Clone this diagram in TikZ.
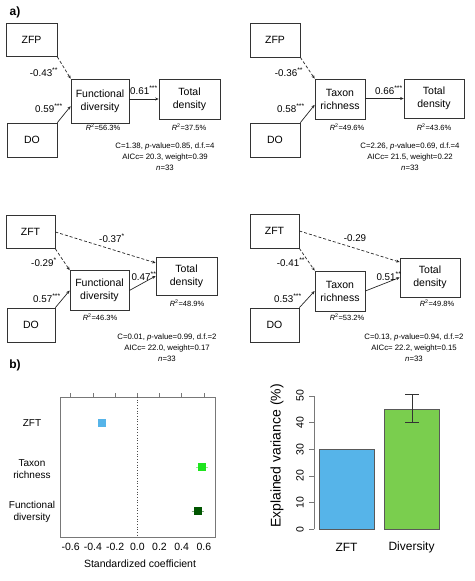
\documentclass[tikz,border=0pt]{standalone}
\usepackage{fontspec}
\setmainfont{Liberation Sans}
\usepackage{xcolor}
\definecolor{zftblue}{RGB}{86,180,233}
\definecolor{trgreen}{RGB}{30,228,30}
\definecolor{fdgreen}{RGB}{0,85,0}
\definecolor{bargreen}{RGB}{122,206,78}
\definecolor{axisgray}{RGB}{120,120,120}
\usetikzlibrary{arrows.meta}
\tikzset{
  pathbox/.style={draw=black!80, line width=0.7pt, inner sep=0pt, align=center,
    font=\fontsize{10.5}{13}\selectfont},
  coef/.style={font=\fontsize{9.8}{11}\selectfont, inner sep=0pt},
  rsq/.style={font=\fontsize{7.5}{9}\selectfont, inner sep=0pt},
  stats/.style={font=\fontsize{7.8}{10.8}\selectfont, align=center, inner sep=0pt},
  arr/.style={-{Stealth[length=3.5pt, width=3pt]}, line width=0.7pt, black!85},
  darr/.style={arr, dash pattern=on 3pt off 2pt},
  panel/.style={font=\fontsize{12}{14}\selectfont\bfseries, inner sep=0pt},
  ticklab/.style={font=\fontsize{10.5}{12}\selectfont, inner sep=0pt},
  rowlab/.style={font=\fontsize{10}{12.5}\selectfont, align=center, inner sep=0pt},
  barlab/.style={font=\fontsize{12}{14}\selectfont, inner sep=0pt}
}
\newcommand{\rsqtext}[1]{\textit{R}\textsuperscript{2}=#1\%}

\begin{document}
\begin{tikzpicture}[x=1pt, y=-1pt,
  declare function={cx(\v)=137.3+111*\v; vy(\v)=529.3-2.667*\v;}]
  \useasboundingbox (0,0) rectangle (474,581);

  % --- Panel a ---
  \node[panel] (lba) at (15,12) {a)};

  % top left: ZFP, DO -> functional diversity -> total density
  \node[pathbox, minimum width=51, minimum height=33] (zfp1) at (31.5,40) {ZFP};
  \node[pathbox, minimum width=50, minimum height=34] (do1) at (32,140) {DO};
  \node[pathbox, minimum width=58, minimum height=44] (fd1) at (100,101) {Functional\\diversity};
  \node[pathbox, minimum width=61, minimum height=40] (td1) at (189.5,99) {Total\\density};
  \draw[darr] (zfp1.south east) -- (fd1.north west);
  \draw[arr] (do1.north east) -- (fd1.190);
  \draw[arr] (fd1.east |- td1.west) -- (td1.west);
  \node[coef] (c1a) at (44,72) {-0.43\textsuperscript{**}};
  \node[coef] (c1b) at (49,108) {0.59\textsuperscript{***}};
  \node[coef] (c1c) at (144,90) {0.61\textsuperscript{***}};
  \node[rsq] (r1a) at (103,127) {\rsqtext{56.3}};
  \node[rsq] (r1b) at (189,127) {\rsqtext{37.5}};
  \node[stats] (s1) at (165,157) {C=1.38, \textit{p}-value=0.85, d.f.=4\\AICc= 20.3, weight=0.39\\\textit{n}=33};

  % top right: ZFP, DO -> taxon richness -> total density
  \node[pathbox, minimum width=50, minimum height=34] (zfp2) at (275,40) {ZFP};
  \node[pathbox, minimum width=50, minimum height=34] (do2) at (275,140) {DO};
  \node[pathbox, minimum width=50, minimum height=40] (tr2) at (340,99) {Taxon\\richness};
  \node[pathbox, minimum width=60, minimum height=39] (td2) at (434,98.5) {Total\\density};
  \draw[darr] (zfp2.south east) -- (tr2.north west);
  \draw[arr] (do2.north east) -- (tr2.193);
  \draw[arr] (tr2.east |- td2.west) -- (td2.west);
  \node[coef] (c2a) at (289,72) {-0.36\textsuperscript{**}};
  \node[coef] (c2b) at (291,108) {0.58\textsuperscript{***}};
  \node[coef] (c2c) at (389,90) {0.66\textsuperscript{***}};
  \node[rsq] (r2a) at (347,127) {\rsqtext{49.6}};
  \node[rsq] (r2b) at (434,127) {\rsqtext{43.6}};
  \node[stats] (s2) at (410,157) {C=2.26, \textit{p}-value=0.69, d.f.=4\\AICc= 21.5, weight=0.22\\\textit{n}=33};

  % bottom left: ZFT, DO -> functional diversity -> total density
  \node[pathbox, minimum width=49, minimum height=33] (zft3) at (30.5,232) {ZFT};
  \node[pathbox, minimum width=48, minimum height=34] (do3) at (31,325) {DO};
  \node[pathbox, minimum width=59, minimum height=40] (fd3) at (99.5,290.5) {Functional\\diversity};
  \node[pathbox, minimum width=61, minimum height=38] (td3) at (186.5,276) {Total\\density};
  \draw[darr] (zft3.east) -- (td3.157);
  \draw[darr] (zft3.south east) -- (fd3.north west);
  \draw[arr] (do3.north east) -- (fd3.west);
  \draw[arr] (fd3.east) -- (td3.west);
  \node[coef] (c3a) at (112,238) {-0.37\textsuperscript{*}};
  \node[coef] (c3b) at (44,262) {-0.29\textsuperscript{*}};
  \node[coef] (c3c) at (47,298) {0.57\textsuperscript{***}};
  \node[coef] (c3d) at (144,276) {0.47\textsuperscript{**}};
  \node[rsq] (r3a) at (100,317) {\rsqtext{46.3}};
  \node[rsq] (r3b) at (187,303) {\rsqtext{48.9}};
  \node[stats] (s3) at (167,348) {C=0.01, \textit{p}-value=0.99, d.f.=2\\AICc= 22.0, weight=0.17\\\textit{n}=33};

  % bottom right: ZFT, DO -> taxon richness -> total density
  \node[pathbox, minimum width=49, minimum height=34] (zft4) at (274.5,231) {ZFT};
  \node[pathbox, minimum width=49, minimum height=34] (do4) at (274.5,325) {DO};
  \node[pathbox, minimum width=50, minimum height=40] (tr4) at (340,291) {Taxon\\richness};
  \node[pathbox, minimum width=60, minimum height=39] (td4) at (430,277.5) {Total\\density};
  \draw[darr] (zft4.east) -- (td4.153);
  \draw[darr] (zft4.south east) -- (tr4.north west);
  \draw[arr] (do4.north east) -- (tr4.west);
  \draw[arr] (tr4.east) -- (td4.west);
  \node[coef] (c4a) at (355,238) {-0.29};
  \node[coef] (c4b) at (291,262) {-0.41\textsuperscript{**}};
  \node[coef] (c4c) at (288,298) {0.53\textsuperscript{***}};
  \node[coef] (c4d) at (389,276) {0.51\textsuperscript{**}};
  \node[rsq] (r4a) at (347,317) {\rsqtext{53.2}};
  \node[rsq] (r4b) at (437,303) {\rsqtext{49.8}};
  \node[stats] (s4) at (414,348) {C=0.13, \textit{p}-value=0.94, d.f.=2\\AICc= 22.2, weight=0.15\\\textit{n}=33};

  % --- Panel b ---
  \node[panel] (lbb) at (15,365) {b)};

  % left: standardized coefficients
  \draw[axisgray, line width=0.7pt] (60,397) rectangle (215,537);
  \foreach \v in {-0.6,-0.4,-0.2,0.0,0.2,0.4,0.6} {
    \draw[axisgray, line width=0.7pt] ({cx(\v)},397) -- ({cx(\v)},393);
    \node[ticklab] at ({cx(\v)},547) {\v};
  }
  \draw[black!70, dotted, line width=0.7pt] ({cx(0)},397) -- ({cx(0)},537);
  \node[ticklab] (xlab) at (140,564) {Standardized coefficient};
  \node[rowlab] (p1) at (32,423) {ZFT};
  \node[rowlab] (p2) at (32,469) {Taxon\\richness};
  \node[rowlab] (p3) at (32,512) {Functional\\diversity};
  % points with error bars
  \fill[zftblue] ({cx(-0.32)-4},419) rectangle ({cx(-0.32)+4},427);
  \draw[trgreen!50, line width=0.8pt] ({cx(0.53)},467) -- ({cx(0.64)},467);
  \fill[trgreen] ({cx(0.585)-4},463) rectangle ({cx(0.585)+4},471);
  \draw[fdgreen!50, line width=0.8pt] ({cx(0.49)},511) -- ({cx(0.60)},511);
  \fill[fdgreen] ({cx(0.545)-4},507) rectangle ({cx(0.545)+4},515);

  % right: explained variance
  \draw[axisgray, line width=0.8pt] (314,{vy(0)}) -- (314,{vy(50)});
  \foreach \v in {0,10,...,50} {
    \draw[axisgray, line width=0.8pt] (314,{vy(\v)}) -- (309,{vy(\v)});
    \node[barlab, rotate=90, font=\fontsize{10.5}{12}\selectfont] at (300,{vy(\v)}) {\v};
  }
  \node[barlab, rotate=90, font=\fontsize{14}{16}\selectfont] (ylab) at (277,456) {Explained variance (\%)};
  \draw[fill=zftblue, draw=black!65, line width=0.6pt] (319,{vy(0)}) rectangle (374,{vy(30)});
  \draw[fill=bargreen, draw=black!65, line width=0.6pt] (384,{vy(0)}) rectangle (439,{vy(45)});
  \draw[black!80, line width=0.7pt] (412,{vy(40)}) -- (412,{vy(50.5)});
  \draw[black!80, line width=0.7pt] (405,{vy(40)}) -- (419,{vy(40)});
  \draw[black!80, line width=0.7pt] (405,{vy(50.5)}) -- (419,{vy(50.5)});
  \node[barlab] (b1) at (346.5,547) {ZFT};
  \node[barlab] (b2) at (411.5,547) {Diversity};
\end{tikzpicture}
\end{document}
